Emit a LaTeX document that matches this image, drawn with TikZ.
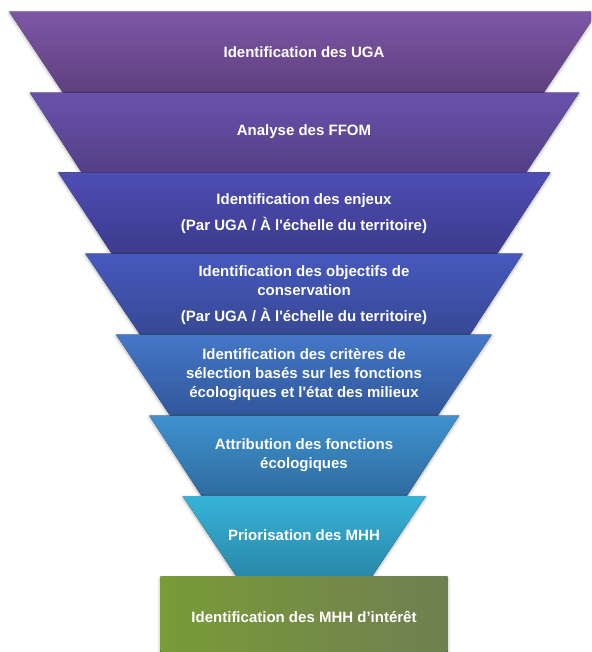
\documentclass[tikz,border=0pt]{standalone}
\usepackage{fontspec}
\setmainfont{Liberation Sans}
\usetikzlibrary{shadows.blur}
\definecolor{aT}{HTML}{7D57A5}\definecolor{aB}{HTML}{5F3F7F}
\definecolor{bT}{HTML}{6A52AC}\definecolor{bB}{HTML}{533F86}
\definecolor{cT}{HTML}{4E4DB4}\definecolor{cB}{HTML}{3C3B8C}
\definecolor{dT}{HTML}{4659BE}\definecolor{dB}{HTML}{374894}
\definecolor{eT}{HTML}{4478C8}\definecolor{eB}{HTML}{31569A}
\definecolor{fT}{HTML}{3E92CF}\definecolor{fB}{HTML}{2F6B9E}
\definecolor{gT}{HTML}{36B4D8}\definecolor{gB}{HTML}{2A87A9}
\definecolor{hL}{HTML}{7A9B37}\definecolor{hM}{HTML}{617F28}\definecolor{hR}{HTML}{6F7F52}
\newcommand{\sq}{\textquotesingle}
\tikzset{
  layer/.style={blur shadow={shadow xshift=0pt,shadow yshift=-1.5pt,shadow blur radius=3pt,shadow opacity=35}},
  label/.style={text=white,font=\bfseries\fontsize{15}{19}\selectfont,align=center,inner sep=0pt}
}
\begin{document}
\begin{tikzpicture}[x=1pt,y=-1pt]
\useasboundingbox (0,0) rectangle (591,652);
\begin{scope}
\clip (0,0) rectangle (591,652);
\fill[layer,top color=aT,bottom color=aB] (9.3,11.7) -- (597.5,11.7) -- (543.7,92.7) -- (63,92.7) -- cycle;
\fill[layer,top color=bT,bottom color=bB] (30,92.7) -- (579,92.7) -- (526,172.5) -- (81.7,172.5) -- cycle;
\fill[layer,top color=cT,bottom color=cB] (58.3,172.5) -- (550.3,172.5) -- (497.3,253.5) -- (111.7,253.5) -- cycle;
\fill[layer,top color=dT,bottom color=dB] (85.3,253.5) -- (522.7,253.5) -- (470,334.5) -- (140,334.5) -- cycle;
\fill[layer,top color=eT,bottom color=eB] (116,334.5) -- (491.7,334.5) -- (437.7,415.5) -- (170,415.5) -- cycle;
\fill[layer,top color=fT,bottom color=fB] (149.3,415.5) -- (459,415.5) -- (406.7,496) -- (201.7,496) -- cycle;
\fill[layer,top color=gT,bottom color=gB] (182.7,496) -- (425.7,496) -- (371.7,576.7) -- (236.7,576.7) -- cycle;
\fill[layer,left color=hL,middle color=hM,right color=hR] (160.3,576.7) rectangle (447.7,652);
\end{scope}
\node[label] (t1) at (304,52) {Identification des UGA};
\node[label] (t2) at (304,132) {Analyse des FFOM};
\node[label] (t3) at (304,213.5) {Identification des enjeux\\[7pt](Par UGA / À l\sq échelle du territoire)};
\node[label] (t4) at (304,295) {Identification des objectifs de\\conservation\\[7pt](Par UGA / À l\sq échelle du territoire)};
\node[label] (t5) at (304,375) {Identification des critères de\\sélection basés sur les fonctions\\écologiques et l\sq état des milieux};
\node[label] (t6) at (304,455.5) {Attribution des fonctions\\écologiques};
\node[label] (t7) at (304,535.5) {Priorisation des MHH};
\node[label] (t8) at (304,616.5) {Identification des MHH d’intérêt};
\end{tikzpicture}
\end{document}
